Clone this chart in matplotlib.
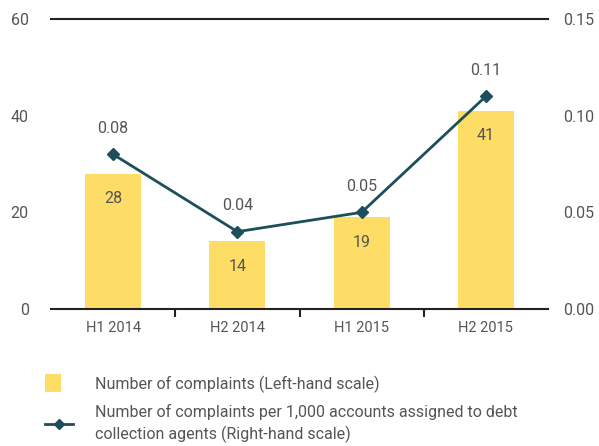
import matplotlib.pyplot as plt
from matplotlib.lines import Line2D
from matplotlib.patches import Patch, Rectangle
from matplotlib.legend_handler import HandlerPatch

plt.rcParams["font.family"] = ["Roboto", "DejaVu Sans"]

periods = ["H1 2014", "H2 2014", "H1 2015", "H2 2015"]
complaints = [28, 14, 19, 41]
per_1000 = [0.08, 0.04, 0.05, 0.11]

BAR = "#fedd66"
LINE = "#1c4f59"
TXT = "#555555"

fig = plt.figure(figsize=(5.99, 4.46), dpi=100)
ax = fig.add_axes([51 / 599, 1 - 309 / 446, 497 / 599, 290 / 446])
ax2 = ax.twinx()

x = list(range(len(periods)))
ax.bar(x, complaints, width=0.45, color=BAR, zorder=1)
for i, v in enumerate(complaints):
    ax.text(i, v - 3.6, str(v), ha="center", va="top", fontsize=11.5, color=TXT)

ax2.plot(x, per_1000, color=LINE, lw=2, marker="D", ms=6, zorder=3)
for i, v in enumerate(per_1000):
    ax2.text(i, v + 0.0095, "%.2f" % v, ha="center", va="bottom", fontsize=11.5, color=TXT)

ax.set_xlim(-0.5, 3.5)
ax.set_ylim(0, 60)
ax2.set_ylim(0, 0.15)
ax.set_yticks([0, 20, 40, 60])
ax2.set_yticks([0, 0.05, 0.10, 0.15])
ax2.set_yticklabels(["0.00", "0.05", "0.10", "0.15"])

for a in (ax, ax2):
    for s in ("left", "right", "top", "bottom"):
        a.spines[s].set_visible(False)
    a.tick_params(axis="y", length=0, labelsize=11.5, labelcolor=TXT)

ax.axhline(60, color="#222222", lw=1.5, clip_on=False)
ax.axhline(0, color="#222222", lw=1.5, clip_on=False)
ax.tick_params(axis="y", pad=16)
ax2.tick_params(axis="y", pad=11)

ax.set_xticks(x)
ax.set_xticklabels(periods)
ax.tick_params(axis="x", length=0, labelsize=10.5, labelcolor=TXT, pad=9)
ax.set_xticks([0.5, 1.5, 2.5], minor=True)
ax.tick_params(axis="x", which="minor", length=6, width=1.5, color="#222222")


def square(legend, orig_handle, xdescent, ydescent, width, height, fontsize):
    side = height * 1.6
    return Rectangle((xdescent, ydescent + height / 2 - side / 2), side * 0.85, side)


handles = [
    Patch(facecolor=BAR, edgecolor="none"),
    Line2D([0], [0], color=LINE, lw=2, marker="D", ms=5),
]
labels = [
    "Number of complaints (Left-hand scale)",
    "Number of complaints per 1,000 accounts assigned to debt\ncollection agents (Right-hand scale)",
]
leg = fig.legend(handles, labels, loc="upper left", bbox_to_anchor=(31 / 599, 1 - 361 / 446),
                 frameon=False, fontsize=11.5, labelcolor=TXT, handlelength=1.7,
                 handletextpad=1.4, labelspacing=0.7,
                 handler_map={Patch: HandlerPatch(patch_func=square)})
for t in leg.get_texts():
    t.set_linespacing(1.45)

fig.savefig("out.png", dpi=100)
